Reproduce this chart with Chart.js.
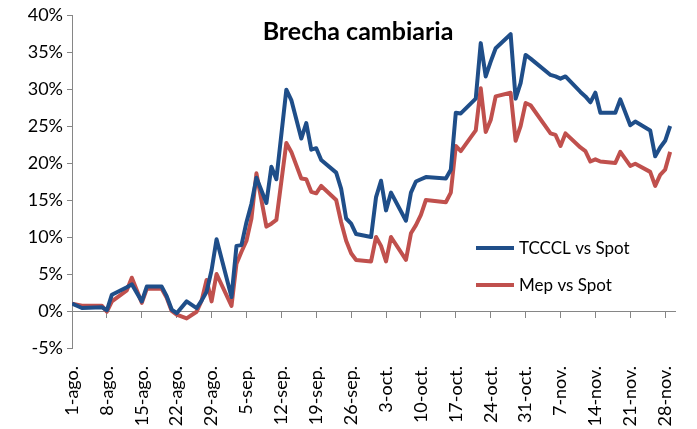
<!DOCTYPE html>
<html>
<head>
<meta charset="utf-8">
<script src="https://cdn.jsdelivr.net/npm/chart.js@4/dist/chart.umd.min.js"></script>
<style>
  html, body { margin: 0; padding: 0; background: #fff; }
  #wrap { width: 697px; height: 429px; }
</style>
</head>
<body>
<div id="wrap"><canvas id="myChart" width="697" height="429"></canvas></div>
<script>
// days counted from 1-ago
const days = [0, 2, 6, 7, 8, 11, 12, 14, 15, 18, 19, 20, 21, 23, 25, 26, 27, 28, 29, 32,
  33, 34, 35, 36, 37, 39, 40, 41, 43, 44, 46, 47, 48, 49, 50, 53, 54, 55, 56, 57,
  60, 61, 62, 63, 64, 67, 68, 69, 70, 71, 75, 76, 77, 78, 81, 82, 83, 84, 85, 88,
  89, 90, 91, 92, 96, 97, 98, 99, 102, 103, 104, 105, 106, 109, 110, 112, 113, 116, 117, 118,
  119, 120]

const tcccl = [1.0, 0.4, 0.5, 0.1, 2.2, 3.2, 3.6, 1.3, 3.3, 3.3, 2.0, 0.2, -0.3, 1.3, 0.4, 1.4, 2.6, 5.5, 9.7, 1.9,
  8.8, 8.9, 12.0, 14.5, 18.0, 14.6, 19.5, 17.8, 29.9, 28.5, 23.3, 25.4, 21.8, 22.0, 20.4, 18.7, 16.5, 12.5, 11.8, 10.4,
  10.0, 15.4, 17.6, 13.6, 16.0, 12.2, 16.0, 17.5, 17.8, 18.1, 17.9, 19.1, 26.8, 26.7, 28.7, 36.2, 31.7, 33.7, 35.5, 37.4,
  28.7, 30.8, 34.6, 34.1, 31.9, 31.7, 31.4, 31.7, 29.6, 29.0, 28.2, 29.5, 26.8, 26.8, 28.6, 25.1, 25.6, 24.4, 20.9, 22.1,
  23.0, 25.0]

const mep = [1.0, 0.7, 0.7, -0.1, 1.3, 2.8, 4.5, 1.1, 3.0, 3.0, 1.8, 0.0, -0.5, -1.0, -0.1, 1.4, 4.2, 1.3, 5.0, 0.7,
  6.4, 8.0, 9.5, 12.5, 18.6, 11.4, 11.8, 12.3, 22.7, 21.5, 17.9, 17.8, 16.1, 15.9, 16.9, 15.0, 12.0, 9.5, 7.8, 6.9,
  6.7, 10.0, 8.8, 6.7, 10.0, 6.9, 10.5, 11.6, 13.0, 15.0, 14.7, 16.0, 22.3, 21.6, 24.4, 30.1, 24.2, 25.8, 29.0, 29.5,
  23.0, 25.0, 28.1, 27.8, 24.0, 23.8, 22.3, 24.0, 22.1, 21.6, 20.2, 20.5, 20.2, 20.0, 21.5, 19.6, 19.9, 18.8, 16.9, 18.4,
  19.1, 21.5]

const tickLabels = ['1-ago.', '8-ago.', '15-ago.', '22-ago.', '29-ago.', '5-sep.', '12-sep.', '19-sep.',
  '26-sep.', '3-oct.', '10-oct.', '17-oct.', '24-oct.', '31-oct.', '7-nov.', '14-nov.', '21-nov.', '28-nov.']

const seriesNames = ['TCCCL vs Spot', 'Mep vs Spot']
const chartTitle = 'Brecha cambiaria'

const blue = '#1F4E89'
const red = '#C0504D'
const axisGray = '#868686'
const fontFamily = 'Lato, "Liberation Sans", sans-serif'

// title + legend sit inside the plot, like the excel original
const overlayPlugin = {
  id: 'overlay',
  afterDraw(chart) {
    const ctx = chart.ctx
    ctx.save()
    ctx.fillStyle = '#000'
    ctx.font = 'bold 25px ' + fontFamily
    ctx.textAlign = 'center'
    ctx.textBaseline = 'middle'
    ctx.fillText(chartTitle, 358, 32)

    ctx.font = '17px ' + fontFamily
    ctx.textAlign = 'left'
    const rows = [248, 285]
    chart.data.datasets.forEach((ds, i) => {
      ctx.strokeStyle = ds.borderColor
      ctx.lineWidth = 4
      ctx.beginPath()
      ctx.moveTo(476, rows[i])
      ctx.lineTo(514, rows[i])
      ctx.stroke()
      ctx.fillText(ds.label, 519, rows[i] + 1)
    })
    ctx.restore()
  }
}

const ctx = document.getElementById('myChart').getContext('2d')
new Chart(ctx, {
  type: 'line',
  data: {
    datasets: [
      {
        label: seriesNames[0],
        data: days.map((d, i) => ({ x: d, y: tcccl[i] })),
        borderColor: blue,
        borderWidth: 4,
        pointRadius: 0,
        tension: 0,
        borderJoinStyle: 'round',
      },
      {
        label: seriesNames[1],
        data: days.map((d, i) => ({ x: d, y: mep[i] })),
        borderColor: red,
        borderWidth: 4,
        pointRadius: 0,
        tension: 0,
        borderJoinStyle: 'round',
      },
    ],
  },
  options: {
    responsive: false,
    animation: false,
    layout: { padding: { top: 15, right: 15, left: 0, bottom: 0 } },
    plugins: {
      legend: { display: false },
      title: { display: false },
      tooltip: { enabled: false },
    },
    scales: {
      x: {
        type: 'linear',
        min: 0,
        max: 121,
        grid: { display: false },
        border: { display: false },
        ticks: {
          stepSize: 7,
          includeBounds: false,
          autoSkip: false,
          maxRotation: 90,
          minRotation: 90,
          padding: 10,
          color: '#000',
          font: { family: fontFamily, size: 18 },
          callback: (value) => tickLabels[value / 7] ?? '',
        },
        afterFit: (scale) => { scale.height = 81 },
      },
      x2: {
        type: 'linear',
        position: { y: 0 },
        min: 0,
        max: 121,
        grid: { drawOnChartArea: false, drawTicks: true, tickLength: 6, color: axisGray },
        border: { color: axisGray, width: 1 },
        ticks: { stepSize: 7, includeBounds: false, display: false },
      },
      y: {
        min: -5,
        max: 40,
        grid: { drawOnChartArea: false, tickLength: 5, color: axisGray },
        border: { color: axisGray, width: 1 },
        ticks: {
          stepSize: 5,
          padding: 4,
          color: '#000',
          font: { family: fontFamily, size: 18 },
          callback: (value) => value + '%',
        },
        afterFit: (scale) => { scale.width = 72 },
      },
    },
  },
  plugins: [overlayPlugin],
})
</script>
</body>
</html>
